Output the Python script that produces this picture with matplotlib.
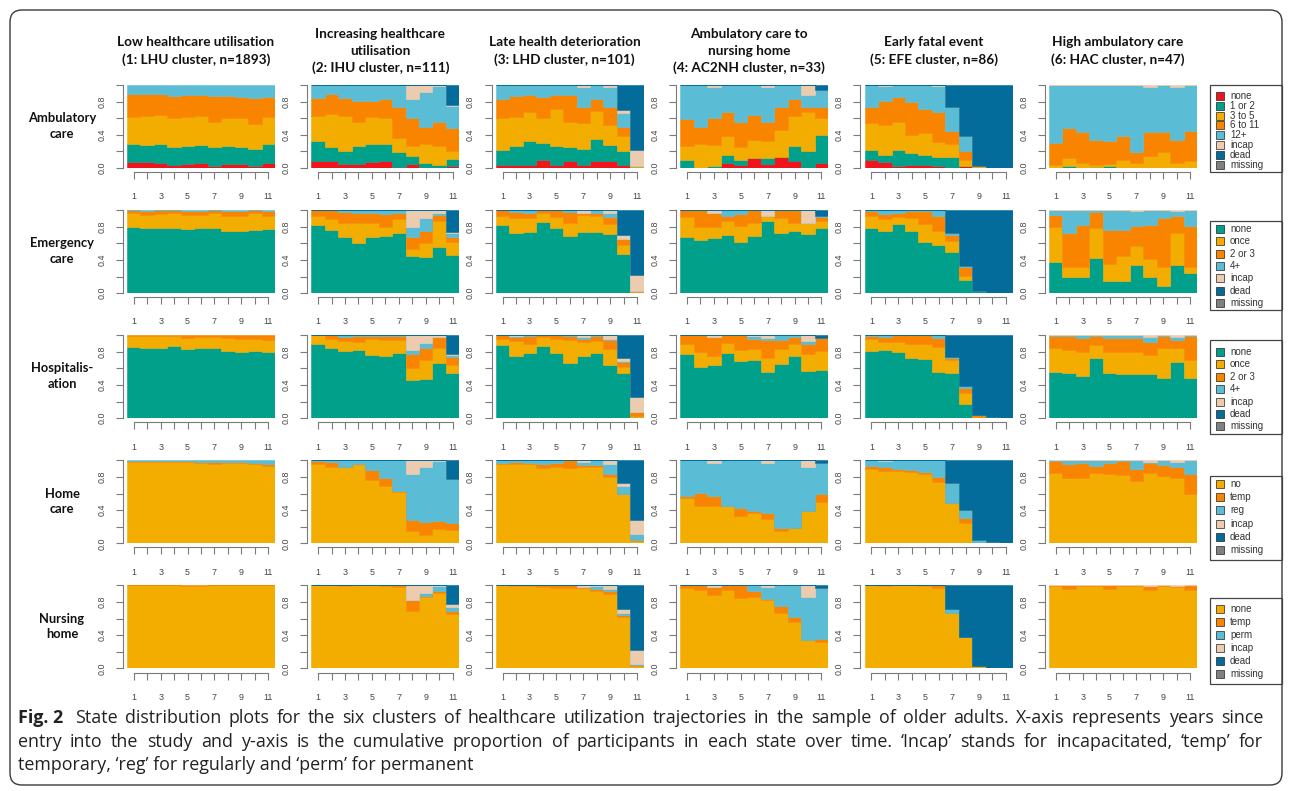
"""State distribution plots: 5 care domains x 6 healthcare-utilisation clusters."""

import numpy as np
import matplotlib

matplotlib.use("Agg")
import matplotlib.pyplot as plt
from matplotlib.patches import Rectangle, FancyBboxPatch

W, H = 1290, 791

YEARS = [1, 2, 3, 4, 5, 6, 7, 8, 9, 10, 11]

CLUSTER_TITLES = [
    "Low healthcare utilisation\n(1: LHU cluster, n=1893)",
    "Increasing healthcare\nutilisation\n(2: IHU cluster, n=111)",
    "Late health deterioration\n(3: LHD cluster, n=101)",
    "Ambulatory care to\nnursing home\n(4: AC2NH cluster, n=33)",
    "Early fatal event\n(5: EFE cluster, n=86)",
    "High ambulatory care\n(6: HAC cluster, n=47)",
]

RED, TEAL, YELLOW, ORANGE = "#F0141C", "#00A08A", "#F2AD00", "#F98400"
BLUE, PEACH, DARK, GREY = "#5BBCD6", "#ECCBAE", "#046C9A", "#808080"

AMB_STATES = ["none", "1 or 2", "3 to 5", "6 to 11", "12+", "incap", "dead", "missing"]
AMB_COLORS = [RED, TEAL, YELLOW, ORANGE, BLUE, PEACH, DARK, GREY]
ER_STATES = ["none", "once", "2 or 3", "4+", "incap", "dead", "missing"]
ER_COLORS = [TEAL, YELLOW, ORANGE, BLUE, PEACH, DARK, GREY]
HOSP_STATES = ["none", "once", "2 or 3", "4+", "incap", "dead", "missing"]
HOSP_COLORS = [TEAL, YELLOW, ORANGE, BLUE, PEACH, DARK, GREY]
HOME_STATES = ["no", "temp", "reg", "incap", "dead", "missing"]
HOME_COLORS = [YELLOW, ORANGE, BLUE, PEACH, DARK, GREY]
NH_STATES = ["none", "temp", "perm", "incap", "dead", "missing"]
NH_COLORS = [YELLOW, ORANGE, BLUE, PEACH, DARK, GREY]

# cumulative proportion reached at the top of each state, per year
# --- ambulatory care
amb_lhu = {
    "none":    [.07, .07, .06, .04, .05, .06, .03, .05, .05, .03, .06],
    "1 or 2":  [.29, .28, .29, .25, .27, .28, .25, .27, .25, .23, .29],
    "3 to 5":  [.62, .63, .64, .60, .62, .63, .55, .60, .60, .53, .61],
    "6 to 11": [.89, .89, .89, .87, .88, .88, .87, .87, .86, .84, .86],
    "12+":     [1, 1, 1, 1, 1, 1, 1, 1, 1, 1, 1],
}
amb_ihu = {
    "none":    [.08, .09, .05, .05, .07, .08, .01, .05, .00, .00, .03],
    "1 or 2":  [.32, .25, .21, .27, .29, .29, .19, .14, .06, .04, .11],
    "3 to 5":  [.63, .65, .63, .56, .61, .60, .36, .26, .29, .27, .20],
    "6 to 11": [.84, .89, .84, .81, .81, .83, .73, .60, .50, .56, .48],
    "12+":     [1, 1, 1, 1, 1, 1, 1, .83, .92, .99, .75],
    "incap":   [1, 1, 1, 1, 1, 1, 1, 1, 1, 1, .76],
    "dead":    [1, 1, 1, 1, 1, 1, 1, 1, 1, 1, 1],
}
amb_lhd = {
    "none":    [.04, .04, .04, .10, .04, .08, .04, .08, .09, .04, .00],
    "1 or 2":  [.22, .27, .32, .30, .27, .25, .23, .35, .28, .21, .015],
    "3 to 5":  [.60, .62, .67, .60, .71, .56, .54, .69, .52, .39, .03],
    "6 to 11": [.83, .87, .88, .85, .88, .88, .73, .83, .73, .50, .03],
    "12+":     [1, 1, 1, 1, 1, 1, .98, 1, .97, .66, .03],
    "incap":   [1, 1, 1, 1, 1, 1, 1, 1, 1, .70, .22],
    "dead":    [1, 1, 1, 1, 1, 1, 1, 1, 1, 1, 1],
}
amb_ac2nh = {
    "none":    [0, 0, 0, .06, .04, .12, .05, .13, .08, 0, .06],
    "1 or 2":  [.10, 0, .03, .16, .10, .12, .12, .13, .26, .20, .40],
    "3 to 5":  [.26, .29, .28, .38, .25, .34, .32, .46, .63, .67, .60],
    "6 to 11": [.59, .50, .60, .67, .56, .64, .56, .73, .83, .73, .73],
    "12+":     [1, 1, .97, 1, 1, 1, .97, 1, 1, .88, .94],
    "incap":   [1, 1, 1, 1, 1, 1, 1, 1, 1, 1, .94],
    "dead":    [1, 1, 1, 1, 1, 1, 1, 1, 1, 1, 1],
}
amb_efe = {
    "none":    [.10, .07, .03, .04, .04, .03, 0, .02, 0, 0, 0],
    "1 or 2":  [.22, .16, .22, .18, .16, .13, .13, .03, 0, 0, 0],
    "3 to 5":  [.54, .52, .55, .40, .42, .31, .29, .10, .03, 0, 0],
    "6 to 11": [.73, .81, .85, .79, .71, .67, .44, .21, .03, 0, 0],
    "12+":     [1, .99, 1, 1, 1, .99, .73, .38, .03, 0, 0],
    "incap":   [1, 1, 1, 1, 1, 1, .73, .38, .03, 0, 0],
    "dead":    [1, 1, 1, 1, 1, 1, 1, 1, 1, 1, 1],
}
amb_hac = {
    "1 or 2":  [0, .02, 0, .01, .02, 0, 0, 0, 0, 0, 0],
    "3 to 5":  [.04, .12, .06, .04, .05, .10, .06, .14, .19, .06, .09],
    "6 to 11": [.30, .48, .43, .34, .32, .39, .19, .43, .43, .34, .44],
    "12+":     [1, 1, 1, 1, 1, 1, 1, .98, 1, .98, 1],
    "incap":   [1, 1, 1, 1, 1, 1, 1, 1, 1, 1, 1],
}
# --- emergency care
er_lhu = {
    "none":   [.80, .79, .79, .79, .77, .79, .79, .75, .75, .76, .77],
    "once":   [.97, .94, .95, .96, .94, .94, .97, .93, .93, .96, .93],
    "2 or 3": [1, .995, 1, 1, .995, .995, 1, .995, .995, 1, .99],
    "4+":     [1, 1, 1, 1, 1, 1, 1, 1, 1, 1, 1],
}
er_ihu = {
    "none":   [.82, .76, .68, .60, .68, .69, .72, .45, .43, .55, .46],
    "once":   [.93, .89, .85, .84, .84, .80, .89, .53, .60, .87, .61],
    "2 or 3": [1, 1, .98, .96, .97, .95, .96, .68, .75, .94, .67],
    "4+":     [1, 1, 1, 1, 1, 1, 1, .80, .90, .97, .73],
    "incap":  [1, 1, 1, 1, 1, 1, 1, 1, 1, 1, .74],
    "dead":   [1, 1, 1, 1, 1, 1, 1, 1, 1, 1, 1],
}
er_lhd = {
    "none":   [.82, .73, .74, .86, .79, .69, .74, .74, .71, .47, 0],
    "once":   [.93, .91, .90, .97, .92, .85, .94, .93, .83, .58, .01],
    "2 or 3": [1, .98, .97, 1, 1, .98, .97, .96, .92, .65, .03],
    "4+":     [1, 1, 1, 1, 1, 1, .97, 1, .96, .65, .03],
    "incap":  [1, 1, 1, 1, 1, 1, 1, 1, 1, .70, .22],
    "dead":   [1, 1, 1, 1, 1, 1, 1, 1, 1, 1, 1],
}
er_ac2nh = {
    "none":   [.67, .64, .66, .70, .62, .69, .87, .73, .75, .71, .79],
    "once":   [.92, .80, .80, .87, .81, .84, .93, .90, .85, .85, .87],
    "2 or 3": [1, 1, .97, .93, .95, 1, .93, 1, 1, .85, .92],
    "4+":     [1, 1, .97, 1, 1, 1, .93, 1, 1, .85, .93],
    "incap":  [1, 1, 1, 1, 1, 1, 1, 1, 1, 1, .93],
    "dead":   [1, 1, 1, 1, 1, 1, 1, 1, 1, 1, 1],
}
er_efe = {
    "none":   [.78, .75, .83, .75, .62, .58, .49, .16, .02, 0, 0],
    "once":   [.93, .89, .92, .90, .83, .75, .63, .21, .02, 0, 0],
    "2 or 3": [.99, .95, .97, .99, .99, .93, .70, .31, .02, 0, 0],
    "4+":     [1, 1, 1, 1, 1, 1, .72, .33, .02, 0, 0],
    "incap":  [1, 1, 1, 1, 1, 1, .73, .33, .02, 0, 0],
    "dead":   [1, 1, 1, 1, 1, 1, 1, 1, 1, 1, 1],
}
er_hac = {
    "none":   [.37, .20, .19, .42, .15, .14, .34, .20, .09, .34, .24],
    "once":   [.80, .31, .31, .78, .35, .45, .57, .41, .31, .73, .31],
    "2 or 3": [.94, .73, .82, .98, .76, .76, .81, .82, .90, .93, .81],
    "4+":     [1, 1, 1, 1, 1, 1, .99, 1, 1, .99, 1],
    "incap":  [1, 1, 1, 1, 1, 1, 1, 1, 1, 1, 1],
}
# --- hospitalisation
ho_lhu = {
    "none":   [.86, .85, .85, .87, .83, .84, .84, .81, .80, .81, .80],
    "once":   [.99, .99, .99, .99, .97, .98, .98, .97, .96, .96, .94],
    "2 or 3": [1, 1, 1, 1, 1, 1, 1, 1, 1, 1, 1],
}
ho_ihu = {
    "none":   [.90, .84, .81, .82, .76, .75, .78, .46, .47, .66, .54],
    "once":   [1, .96, .93, .92, .96, .94, .94, .61, .70, .84, .64],
    "2 or 3": [1, 1, .98, .99, .99, .99, .99, .77, .85, .98, .74],
    "4+":     [1, 1, 1, 1, 1, 1, 1, .82, .91, .98, .76],
    "incap":  [1, 1, 1, 1, 1, 1, 1, 1, 1, 1, .77],
    "dead":   [1, 1, 1, 1, 1, 1, 1, 1, 1, 1, 1],
}
ho_lhd = {
    "none":   [.88, .75, .79, .87, .79, .67, .75, .78, .64, .54, .02],
    "once":   [.96, .93, .90, .98, .96, .94, .92, .93, .83, .62, .03],
    "2 or 3": [1, .98, .99, 1, 1, .99, .96, .99, .94, .68, .08],
    "4+":     [1, .99, 1, 1, 1, 1, .98, 1, .96, .69, .08],
    "incap":  [1, 1, 1, 1, 1, 1, 1, 1, 1, .72, .26],
    "dead":   [1, 1, 1, 1, 1, 1, 1, 1, 1, 1, 1],
}
ho_ac2nh = {
    "none":   [.77, .62, .64, .79, .69, .70, .56, .65, .75, .57, .58],
    "once":   [.90, .80, .75, .91, .82, .83, .72, .83, .90, .77, .81],
    "2 or 3": [1, 1, .98, 1, 1, .96, .94, .94, .98, .90, .97],
    "4+":     [1, 1, .98, 1, 1, .99, .97, 1, 1, .93, .97],
    "incap":  [1, 1, 1, 1, 1, 1, 1, 1, 1, 1, .97],
    "dead":   [1, 1, 1, 1, 1, 1, 1, 1, 1, 1, 1],
}
ho_efe = {
    "none":   [.81, .82, .80, .72, .71, .56, .54, .17, .01, 0, 0],
    "once":   [.95, .92, .92, .90, .90, .86, .70, .30, .01, 0, 0],
    "2 or 3": [.99, .98, 1, 1, 1, .97, .73, .36, .04, .01, 0],
    "4+":     [1, 1, 1, 1, 1, 1, .74, .39, .04, .01, 0],
    "dead":   [1, 1, 1, 1, 1, 1, 1, 1, 1, 1, 1],
}
ho_hac = {
    "none":   [.56, .54, .51, .72, .55, .53, .53, .53, .48, .68, .48],
    "once":   [.84, .82, .80, .88, .80, .80, .80, .76, .84, .84, .70],
    "2 or 3": [.99, .99, .97, .99, .97, .97, .97, .92, .99, .94, .99],
    "4+":     [1, 1, 1, 1, 1, 1, 1, .98, 1, .98, 1],
    "incap":  [1, 1, 1, 1, 1, 1, 1, 1, 1, 1, 1],
}
# --- home care
hc_lhu = {
    "no":   [.975, .98, .98, .98, .975, .97, .96, .965, .965, .95, .93],
    "temp": [.99, .99, .99, .99, .99, .985, .98, .98, .975, .965, .96],
    "reg":  [1, 1, 1, 1, 1, 1, 1, 1, 1, 1, 1],
}
hc_ihu = {
    "no":    [.96, .92, .92, .95, .76, .69, .62, .15, .10, .17, .16],
    "temp":  [.99, .98, .92, .95, .88, .79, .63, .28, .26, .27, .24],
    "reg":   [1, 1, 1, 1, 1, 1, 1, .84, .92, .99, .78],
    "incap": [1, 1, 1, 1, 1, 1, 1, 1, 1, 1, .78],
    "dead":  [1, 1, 1, 1, 1, 1, 1, 1, 1, 1, 1],
}
hc_lhd = {
    "no":    [.96, .95, .95, .91, .92, .91, .92, .92, .80, .59, .03],
    "temp":  [.97, .98, .97, .95, .97, 1, .94, .94, .84, .59, .04],
    "reg":   [1, 1, 1, 1, 1, 1, .98, 1, .95, .69, .11],
    "incap": [1, 1, 1, 1, 1, 1, 1, 1, 1, .73, .28],
    "dead":  [1, 1, 1, 1, 1, 1, 1, 1, 1, 1, 1],
}
hc_ac2nh = {
    "no":    [.55, .45, .45, .45, .33, .37, .29, .15, .19, .39, .50],
    "temp":  [.57, .61, .57, .45, .42, .39, .36, .18, .19, .39, .60],
    "reg":   [1, 1, .97, 1, 1, 1, .97, 1, 1, .92, .97],
    "incap": [1, 1, 1, 1, 1, 1, 1, 1, 1, 1, .97],
    "dead":  [1, 1, 1, 1, 1, 1, 1, 1, 1, 1, 1],
}
hc_efe = {
    "no":    [.90, .87, .87, .86, .84, .74, .48, .25, 0, 0, 0],
    "temp":  [.93, .92, .90, .88, .86, .80, .48, .30, 0, 0, 0],
    "reg":   [1, .99, 1, 1, 1, 1, .73, .40, .04, .01, 0],
    "incap": [1, 1, 1, 1, 1, 1, .73, .40, .04, .01, 0],
    "dead":  [1, 1, 1, 1, 1, 1, 1, 1, 1, 1, 1],
}
hc_hac = {
    "no":    [.85, .79, .79, .85, .83, .82, .75, .85, .81, .79, .60],
    "temp":  [.99, .96, .97, .93, .97, .99, .90, .97, .94, .92, .83],
    "reg":   [1, 1, 1, 1, 1, 1, 1, .98, 1, .98, 1],
    "incap": [1, 1, 1, 1, 1, 1, 1, 1, 1, 1, 1],
}
# --- nursing home
nh_lhu = {
    "none": [1, 1, 1, 1, .998, .998, 1, 1, 1, 1, 1],
    "temp": [1, 1, 1, 1, 1, 1, 1, 1, 1, 1, 1],
}
nh_ihu = {
    "none":  [1, 1, .995, 1, 1, .99, .985, .69, .86, .91, .66],
    "temp":  [1, 1, 1, 1, 1, 1, 1, .83, .87, .93, .69],
    "perm":  [1, 1, 1, 1, 1, 1, 1, .83, .91, .99, .74],
    "incap": [1, 1, 1, 1, 1, 1, 1, 1, 1, 1, .77],
    "dead":  [1, 1, 1, 1, 1, 1, 1, 1, 1, 1, 1],
}
nh_lhd = {
    "none":  [1, .995, .99, .985, .97, .97, .97, .93, .90, .62, .03],
    "temp":  [1, 1, 1, 1, 1, 1, .98, .96, .93, .64, .04],
    "perm":  [1, 1, 1, 1, 1, 1, .98, .99, .96, .67, .05],
    "incap": [1, 1, 1, 1, 1, 1, 1, 1, 1, .71, .22],
    "dead":  [1, 1, 1, 1, 1, 1, 1, 1, 1, 1, 1],
}
nh_ac2nh = {
    "none":  [.97, .95, .89, .95, .85, .86, .82, .67, .56, .34, .32],
    "temp":  [1, 1, .98, 1, 1, .93, .84, .75, .62, .34, .35],
    "perm":  [1, 1, .98, 1, 1, 1, .98, 1, 1, .86, .97],
    "incap": [1, 1, 1, 1, 1, 1, 1, 1, 1, 1, .97],
    "dead":  [1, 1, 1, 1, 1, 1, 1, 1, 1, 1, 1],
}
nh_efe = {
    "none":  [1, .995, 1, 1, .99, .97, .67, .38, .03, 0, 0],
    "temp":  [1, 1, 1, 1, 1, 1, .67, .38, .03, 0, 0],
    "perm":  [1, 1, 1, 1, 1, 1, .72, .38, .03, .01, 0],
    "dead":  [1, 1, 1, 1, 1, 1, 1, 1, 1, 1, 1],
}
nh_hac = {
    "none":  [.99, .96, .99, .99, .96, .99, .99, .95, .99, .98, .95],
    "temp":  [1, 1, 1, 1, 1, 1, 1, .99, 1, .99, 1],
    "incap": [1, 1, 1, 1, 1, 1, 1, 1, 1, 1, 1],
}

ROWS = [
    ("Ambulatory\ncare", AMB_STATES, AMB_COLORS,
     [amb_lhu, amb_ihu, amb_lhd, amb_ac2nh, amb_efe, amb_hac]),
    ("Emergency\ncare", ER_STATES, ER_COLORS,
     [er_lhu, er_ihu, er_lhd, er_ac2nh, er_efe, er_hac]),
    ("Hospitalis-\nation", HOSP_STATES, HOSP_COLORS,
     [ho_lhu, ho_ihu, ho_lhd, ho_ac2nh, ho_efe, ho_hac]),
    ("Home\ncare", HOME_STATES, HOME_COLORS,
     [hc_lhu, hc_ihu, hc_lhd, hc_ac2nh, hc_efe, hc_hac]),
    ("Nursing\nhome", NH_STATES, NH_COLORS,
     [nh_lhu, nh_ihu, nh_lhd, nh_ac2nh, nh_efe, nh_hac]),
]

# legend boxes per row: (top, bottom, first item y, item step) in pixels
LEGEND_BOXES = [(85, 172, 96, 9.8), (221, 310, 229, 12.3), (340, 434, 352, 12.4),
                (476, 560, 484, 13.2), (598, 684, 609, 13.0)]

CAPTION = [
    "State distribution plots for the six clusters of healthcare utilization trajectories "
    "in the sample of older adults. X-axis represents years since",
    "entry into the study and y-axis is the cumulative proportion of participants in each "
    "state over time. \u2018Incap\u2019 stands for incapacitated, \u2018temp\u2019 for",
    "temporary, \u2018reg\u2019 for regularly and \u2018perm\u2019 for permanent",
]

AXIS_GREY = "#7a7a7a"
TICK_TXT = "#444444"
TITLE_FONT = "Lato"
TICK_FONT = "Liberation Sans"
CAP_FONT = "Open Sans"
CAP_SIZE = 12.9


def px_rect(x, y, w, h):
    return [x / W, 1 - (y + h) / H, w / W, h / H]


def draw_panel(ax, panel, states, colors):
    edges = np.append(np.array(YEARS) - 0.5, YEARS[-1] + 0.5)
    lower = np.zeros(len(YEARS))
    for state, color in zip(states, colors):
        if state not in panel:
            continue
        upper = np.asarray(panel[state], float)
        ax.stairs(upper, edges, baseline=lower, fill=True, color=color,
                  lw=0.4, ec=color)
        lower = upper

    ax.set_xlim(edges[0], edges[-1])
    ax.set_ylim(0, 1)
    for s in ("top", "right"):
        ax.spines[s].set_visible(False)
    ax.spines["bottom"].set_position(("outward", 3))
    ax.spines["bottom"].set_bounds(YEARS[0], YEARS[-1])
    ax.spines["left"].set_position(("outward", 3))
    ax.spines["left"].set_bounds(0, 1)
    for s in ("bottom", "left"):
        ax.spines[s].set_color(AXIS_GREY)
        ax.spines[s].set_linewidth(0.8)
    ax.set_xticks(YEARS)
    ax.set_xticklabels([str(y) if y % 2 else "" for y in YEARS])
    ax.set_yticks([0, .2, .4, .6, .8, 1.0])
    ax.set_yticklabels(["0.0", "", "0.4", "", "0.8", ""])
    ax.tick_params(axis="x", length=5, width=0.8, pad=9.5, color=AXIS_GREY,
                   labelsize=6.4, labelcolor=TICK_TXT)
    ax.tick_params(axis="y", length=5, width=0.8, pad=7, color=AXIS_GREY,
                   labelsize=6.4, labelcolor=TICK_TXT, labelrotation=90)
    for t in ax.get_xticklabels() + ax.get_yticklabels():
        t.set_fontfamily(TICK_FONT)
    for t in ax.get_yticklabels():
        t.set_va("center")


fig = plt.figure(figsize=(W / 100, H / 100), dpi=100)
ov = fig.add_axes([0, 0, 1, 1])
ov.set_xlim(0, W)
ov.set_ylim(H, 0)
ov.axis("off")
renderer = fig.canvas.get_renderer()


def text_width(s, **kw):
    t = ov.text(0, 0, s, **kw)
    w = t.get_window_extent(renderer).width
    t.remove()
    return w


def justified(line, x0, x1, y, **kw):
    words = line.split(" ")
    widths = [text_width(w, **kw) for w in words]
    gap = (x1 - x0 - sum(widths)) / (len(words) - 1)
    x = x0
    for w, wd in zip(words, widths):
        ov.text(x, y, w, ha="left", va="center", **kw)
        x += wd + gap


ov.add_patch(FancyBboxPatch((10, 10), 1272, 775, boxstyle="round,pad=0,rounding_size=12",
                            fill=False, ec="#3a3a3a", lw=1.0))

col_x = [127 + 184.4 * i for i in range(6)]
for i, title in enumerate(CLUSTER_TITLES):
    ov.text(col_x[i] + 69, 51, title, ha="center", va="center", fontsize=9.8,
            fontweight="bold", family=TITLE_FONT, linespacing=1.5, color="#111")

for j, (label, states, colors, panels) in enumerate(ROWS):
    y0 = 85 + 125.1 * j
    for i, panel in enumerate(panels):
        ax = fig.add_axes(px_rect(col_x[i], y0, 148, 83))
        draw_panel(ax, panel, states, colors)
    ov.text(62, y0 + 41, label, ha="center", va="center", fontsize=9.3,
            fontweight="bold", family=TITLE_FONT, linespacing=1.35, color="#111")

    top, bot, first, step = LEGEND_BOXES[j]
    ov.add_patch(Rectangle((1210, top), 72, bot - top, fill=False, ec="#444", lw=0.9))
    for k, (state, color) in enumerate(zip(states, colors)):
        yc = first + step * k
        ov.add_patch(Rectangle((1216, yc - 4), 8, 8, fc=color, ec="#222", lw=0.5))
        ov.text(1230, yc, state, ha="left", va="center", fontsize=7,
                family=TICK_FONT, color="#333")

cap_kw = dict(fontsize=CAP_SIZE, family=CAP_FONT, color="#222")
ov.text(18, 718, "Fig. 2", ha="left", va="center", fontweight="bold", **cap_kw)
fig2_w = text_width("Fig. 2", fontweight="bold", **cap_kw)
justified(CAPTION[0], 18 + fig2_w + 12, 1263, 718, **cap_kw)
justified(CAPTION[1], 18, 1263, 742, **cap_kw)
ov.text(18, 765, CAPTION[2], ha="left", va="center", **cap_kw)

fig.savefig("out.png", dpi=100)
